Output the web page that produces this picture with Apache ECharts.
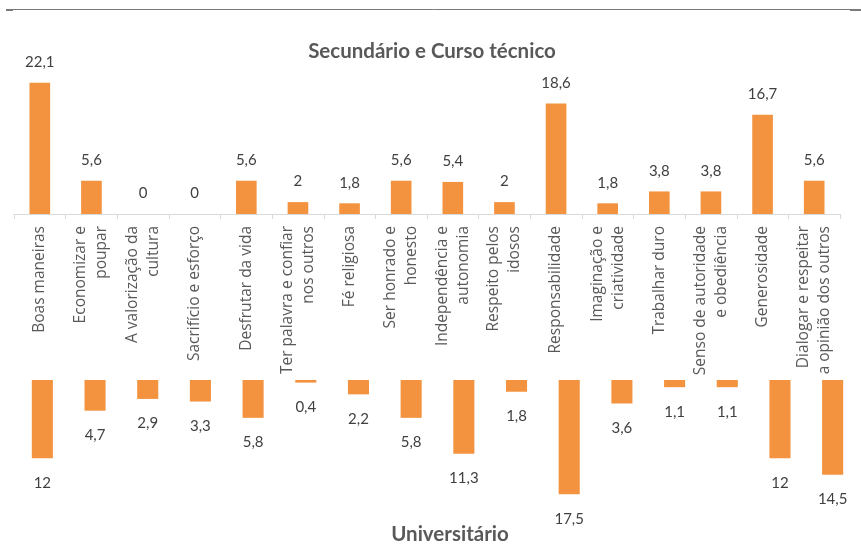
<!DOCTYPE html>
<html>
<head>
<meta charset="utf-8">
<script src="https://cdn.jsdelivr.net/npm/echarts@6/dist/echarts.min.js"></script>
<style>
  html, body { margin: 0; padding: 0; background: #ffffff; }
  #chart { width: 861px; height: 552px; }
</style>
</head>
<body>
<div id="chart"></div>
<script>
// Values the young people chose, in percent
const categories = [
  'Boas maneiras',
  'Economizar e\npoupar',
  'A valorização da\ncultura',
  'Sacrifício e esforço',
  'Desfrutar da vida',
  'Ter palavra e confiar\nnos outros',
  'Fé religiosa',
  'Ser honrado e\nhonesto',
  'Independência e\nautonomia',
  'Respeito pelos\nidosos',
  'Responsabilidade',
  'Imaginação e\ncriatividade',
  'Trabalhar duro',
  'Senso de autoridade\ne obediência',
  'Generosidade',
  'Dialogar e respeitar\na opinião dos outros'
];
const secundario = [22.1, 5.6, 0, 0, 5.6, 2, 1.8, 5.6, 5.4, 2, 18.6, 1.8, 3.8, 3.8, 16.7, 5.6];
const universitario = [12, 4.7, 2.9, 3.3, 5.8, 0.4, 2.2, 5.8, 11.3, 1.8, 17.5, 3.6, 1.1, 1.1, 12, 14.5];

const titleTop = 'Secundário e Curso técnico';
const titleBottom = 'Universitário';

const ORANGE = '#F4933F';
const fmt = p => String(p.value).replace('.', ',');
const valueLabel = {
  show: true,
  formatter: fmt,
  fontFamily: 'Lato',
  fontSize: 15,
  color: '#404040'
};
const titleStyle = { fontFamily: 'Lato', fontWeight: 'bold', fontSize: 20.5, color: '#595959' };

const chart = echarts.init(document.getElementById('chart'), null, { renderer: 'canvas' });
chart.setOption({
  animation: false,
  backgroundColor: '#ffffff',
  title: [
    { text: titleTop, left: 427, top: 36, textAlign: 'center', textStyle: titleStyle },
    { text: titleBottom, left: 445, top: 519, textAlign: 'center', textStyle: titleStyle }
  ],
  graphic: [
    { type: 'line', shape: { x1: 6, y1: 9.5, x2: 861, y2: 9.5 }, style: { stroke: '#7a7a7a', lineWidth: 1 } },
    { type: 'rect', shape: { x: 6, y: 9, width: 7, height: 2 }, style: { fill: '#7a7a7a' } },
    { type: 'rect', shape: { x: 850, y: 9, width: 11, height: 2 }, style: { fill: '#7a7a7a' } }
  ],
  grid: [
    { left: 14, top: 65.5, width: 826, height: 148.5 },
    { left: 16, top: 380, width: 843, height: 117.5 }
  ],
  xAxis: [
    {
      gridIndex: 0, type: 'category', data: categories,
      axisLine: { lineStyle: { color: '#d9d9d9', width: 1 } },
      axisTick: { show: true, length: 5, lineStyle: { color: '#d9d9d9' } },
      axisLabel: {
        rotate: 90, interval: 0, margin: 12,
        fontFamily: 'Open Sans', fontSize: 15.5, lineHeight: 21, color: '#595959'
      }
    },
    { gridIndex: 1, type: 'category', data: categories, show: false }
  ],
  yAxis: [
    { gridIndex: 0, type: 'value', min: 0, max: 25, show: false, splitLine: { show: false } },
    { gridIndex: 1, type: 'value', min: 0, max: 18, inverse: true, show: false, splitLine: { show: false } }
  ],
  series: [
    {
      type: 'bar', xAxisIndex: 0, yAxisIndex: 0, data: secundario, barWidth: '40%',
      itemStyle: { color: ORANGE },
      label: Object.assign({ position: 'top', distance: 13 }, valueLabel)
    },
    {
      type: 'bar', xAxisIndex: 1, yAxisIndex: 1, data: universitario, barWidth: '40%',
      itemStyle: { color: ORANGE },
      label: Object.assign({ position: 'bottom', distance: 17 }, valueLabel)
    }
  ]
});
</script>
</body>
</html>
